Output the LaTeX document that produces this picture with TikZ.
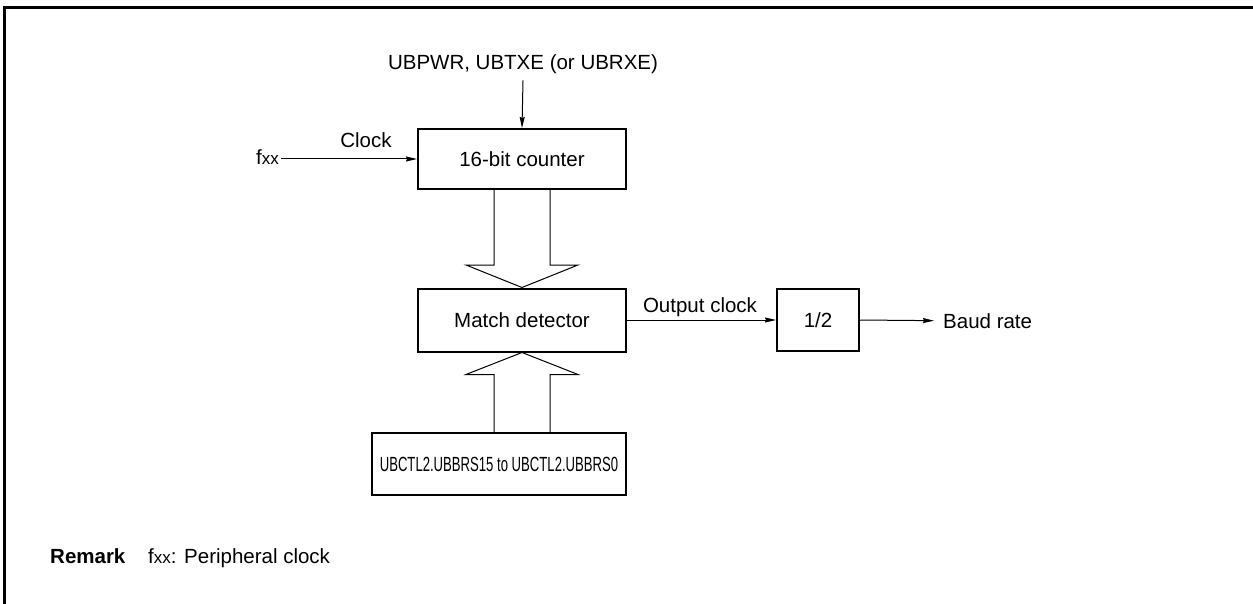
\documentclass[tikz,border=0pt]{standalone}
\usepackage{fontspec}
\setmainfont{Liberation Sans}
\usetikzlibrary{calc,arrows.meta}
\begin{document}
\begin{tikzpicture}[x=1pt,y=-1pt,
  lbl/.style={inner sep=0pt,font=\fontsize{20.5}{24}\selectfont},
  box/.style={draw,line width=2pt,inner sep=0pt,font=\fontsize{20.5}{24}\selectfont},
  conn/.style={line width=1pt,-{Stealth[length=11pt,width=5pt,inset=1pt]}},
  hollow/.style={line width=1pt,line join=miter},
]
\useasboundingbox (0,0) rectangle (1253,604);
\draw[line width=3pt] (4.5,604) -- (4.5,7.3) -- (1253,7.3);

\node[box,minimum width=208pt,minimum height=60pt] (counter) at (522,159) {16-bit counter};
\node[box,minimum width=208pt,minimum height=63pt] (match) at (522,320) {Match detector};
\node[box,minimum width=82pt,minimum height=62pt] (half) at (818,320) {1/2};
\node[box,minimum width=254pt,minimum height=62pt] (regs) at (499,464) {\scalebox{0.64}[1]{UBCTL2.UBBRS15 to UBCTL2.UBBRS0}};

\node[lbl,anchor=base] (top) at (523,70) {UBPWR, UBTXE (or UBRXE)};
\node[lbl,anchor=base west] (fxx) at (256,165) {f{\fontsize{17}{20}\selectfont xx}};
\node[lbl,anchor=base] (clk) at (366,148) {Clock};
\node[lbl,anchor=base] (outclk) at (700,312) {Output clock};
\node[lbl,anchor=base west] (baud) at (943,328) {Baud rate};
\node[lbl,anchor=base west] (remark) at (50,563) {\bfseries Remark};
\node[lbl,anchor=base west] (remtxt) at (148,563) {f{\fontsize{17}{20}\selectfont xx}: Peripheral clock};

\draw[conn] ($(top.south)+(0,6)$) -- (counter.north);
\draw[conn] (fxx.east |- counter.west) ++(2,0) -- (counter.west);
\draw[conn] (match.east) -- (half.west);
\draw[conn] (half.east) -- ($(baud.west)+(-9,0)$);

\draw[hollow] ($(counter.south)+(-28,0)$) -- ++(0,75) -- ++(-28,0) -- (match.north)
  -- ($(counter.south)+(56,75)$) -- ++(-28,0) -- ($(counter.south)+(28,0)$);
\draw[hollow] ($(match.south)+(-28,81)$) -- ($(match.south)+(-28,22)$) -- ++(-28,0) -- (match.south)
  -- ($(match.south)+(56,22)$) -- ++(-28,0) -- ($(match.south)+(28,81)$);
\end{tikzpicture}
\end{document}
